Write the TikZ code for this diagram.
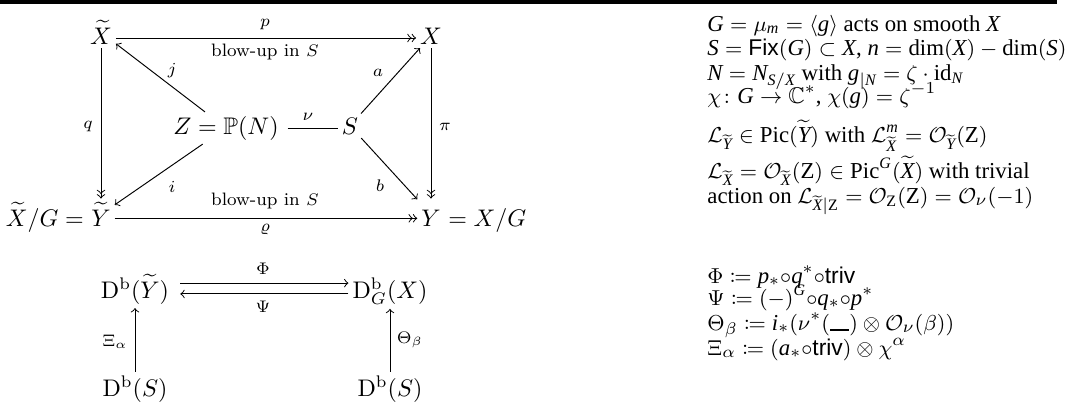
\documentclass[tikz,border=0pt]{standalone}
\usepackage{amsmath,amssymb,mathtools}
\usepackage{fontspec}
\newfontfamily\tmsfam[NFSSFamily=libserif]{Liberation Serif}
\newfontfamily\hvfam[NFSSFamily=libsans]{Liberation Sans}
\DeclareMathAlphabet{\mti}{TU}{libserif}{m}{it}
\DeclareMathAlphabet{\mtr}{TU}{libserif}{m}{n}
\DeclareMathAlphabet{\msf}{TU}{libsans}{m}{n}
\begin{document}
\begin{tikzpicture}[x=0.41667pt,y=-0.41667pt,
  obj/.style={inner sep=1.5pt, anchor=base},
  lbl/.style={inner sep=0pt, font=\fontsize{7.5}{9}\selectfont},
  txt/.style={anchor=base west, inner sep=0pt, font=\tmsfam\fontsize{9.5}{10}\selectfont}]
\useasboundingbox (0,0) rectangle (1076,418);
\fill (0,0) rectangle (1057,4);
% upper diagram
\node[obj] (Xt) at (101,44) {$\widetilde X$};
\node[obj] (X) at (431,44) {$X$};
\node[obj] (Z) at (226,134) {$Z=\mathbb{P}(N)$};
\node[obj] (S) at (350,134) {$S$};
\node[obj] (Yt) at (101,226) {$\widetilde Y$};
\node[anchor=base east, inner sep=0pt] (YtL) at ([xshift=1.5pt]Yt.base west) {$\widetilde X/G={}$};
\node[obj] (Y) at (431,226) {$Y\vphantom{\widetilde Y}$};
\node[anchor=base west, inner sep=0pt] (YR) at ([xshift=-1.5pt]Y.base east) {${}=X/G$};
\draw[->>] ([yshift=2.5pt]Xt.base east) -- ([yshift=2.5pt]X.base west);
\draw[->>] ([yshift=3.2pt]Yt.base east) -- ([yshift=3.2pt]Y.base west);
\draw[->] (Z) -- (Xt);
\draw[->] (S) -- (X);
\draw[->] (Z) -- (Yt);
\draw[->] (S) -- (Y);
\draw[shorten <=2pt] ([yshift=2.5pt]Z.base east) -- ([yshift=2.5pt]S.base west);
\draw[->>] (Xt) -- (Yt);
\draw[->>] (X) -- (Y);
\node[lbl] (lp) at (265,25) {$p$};
\node[lbl] (lb1) at (265,52) {blow-up in $S$};
\node[lbl] (lnu) at (308,117) {$\nu$};
\node[lbl] (lj) at (172,71) {$j$};
\node[lbl] (la) at (378,73) {$a$};
\node[lbl] (lq) at (88,127) {$q$};
\node[lbl] (lpi) at (445,127) {$\pi$};
\node[lbl] (li) at (172,187) {$i$};
\node[lbl] (lb) at (380,186) {$b$};
\node[lbl] (lb2) at (265,201) {blow-up in $S$};
\node[lbl] (lrho) at (265,230) {$\varrho$};
% lower diagram
\node[obj] (DY) at (135,298) {$\mathrm{D}^{\mathrm{b}}(\widetilde Y)$};
\node[obj] (DX) at (390,298) {$\mathrm{D}^{\mathrm{b}}_G(X)$};
\node[obj] (DS1) at (135,396) {$\mathrm{D}^{\mathrm{b}}(S)$};
\node[obj] (DS2) at (390,396) {$\mathrm{D}^{\mathrm{b}}(S)$};
\draw[->, shorten <=3pt] ([yshift=6.2pt]DY.base east) -- ([yshift=6.2pt]DX.base west);
\draw[->, shorten >=3pt] ([yshift=1.7pt]DX.base west) -- ([yshift=1.7pt]DY.base east);
\draw[->] (DS1) -- (DY);
\draw[->] (DS2) -- (DX);
\node[lbl] (lPhi) at (263,269) {$\Phi$};
\node[lbl] (lPsi) at (263,307) {$\Psi$};
\node[lbl] (lXi) at (115,342) {$\Xi_\alpha$};
\node[lbl] (lTh) at (410,340) {$\Theta_\beta$};
% right text
\node[txt] (t1) at (707,31) {$\mti{G}=\mu_{\mti{m}}=\langle \mti{g}\rangle$ acts on smooth $\mti{X}$};
\node[txt] (t2) at (707,55) {$\mti{S}=\msf{Fix}(\mti{G})\subset \mti{X}$, $\mti{n}=\mtr{dim}(\mti{X})-\mtr{dim}(\mti{S})$};
\node[txt] (t3) at (707,80) {$\mti{N}=\mti{N}_{\mti{S}/\mti{X}}$ with $\mti{g}_{|\mti{N}}=\zeta\cdot\mtr{id}_{\mti{N}}$};
\node[txt] (t4) at (707,103) {$\chi\colon \mti{G}\to\mathbb{C}^*$, $\chi(\mti{g})=\zeta^{-1}$};
\node[txt] (t5) at (707,142) {$\mathcal{L}_{\widetilde{\mti{Y}}}\in\mtr{Pic}(\widetilde{\mti{Y}})$ with $\mathcal{L}^{\mti{m}}_{\widetilde{\mti{X}}}=\mathcal{O}_{\widetilde{\mti{Y}}}(\mtr{Z})$};
\node[txt] (t6) at (707,178) {$\mathcal{L}_{\widetilde{\mti{X}}}=\mathcal{O}_{\widetilde{\mti{X}}}(\mtr{Z})\in\mtr{Pic}^{\mti{G}}(\widetilde{\mti{X}})$ with trivial};
\node[txt] (t7) at (707,203) {action on $\mathcal{L}_{\widetilde{\mti{X}}|\mtr{Z}}=\mathcal{O}_{\mtr{Z}}(\mtr{Z})=\mathcal{O}_\nu(-1)$};
\node[txt] (t8) at (707,283) {$\Phi\coloneqq \mti{p}_*{\circ}\mti{q}^*{\circ}\msf{triv}$};
\node[txt] (t9) at (707,305) {$\Psi\coloneqq(-)^{\mti{G}}{\circ}\mti{q}_*{\circ}\mti{p}^*$};
\node[txt] (t10) at (707,330) {$\Theta_\beta\coloneqq \mti{i}_*(\nu^*(\rule[-0.3pt]{0.85em}{0.9pt})\otimes\mathcal{O}_\nu(\beta))$};
\node[txt] (t11) at (707,355) {$\Xi_\alpha\coloneqq(\mti{a}_*{\circ}\msf{triv})\otimes\chi^\alpha$};
\end{tikzpicture}
\end{document}
